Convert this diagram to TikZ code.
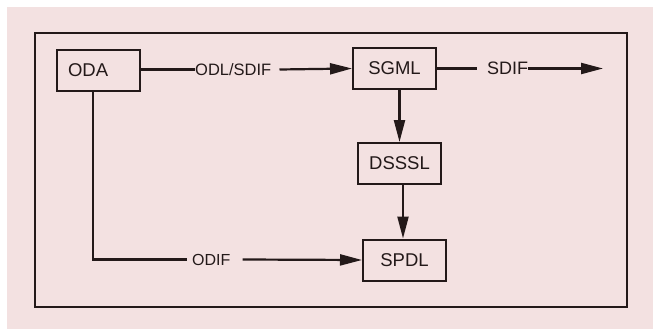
\documentclass[tikz,border=0pt]{standalone}
\usepackage{fontspec}
\setmainfont{Liberation Sans}
\usetikzlibrary{arrows.meta}
\definecolor{paper}{RGB}{243,225,225}
\definecolor{ink}{RGB}{35,25,25}
\begin{document}
\begin{tikzpicture}[x=1pt,y=-1pt,
  box/.style={draw=ink, line width=2pt, minimum width=83pt, minimum height=41pt, inner sep=0pt, font=\fontsize{18.5}{20}\selectfont, text=ink},
  lbl/.style={inner sep=0pt, text=ink, font=\fontsize{16.5}{18}\selectfont},
  conn/.style={draw=ink, line width=2.2pt},
  arr/.style={conn, -{Triangle[length=22pt,width=11pt]}},
  frame/.style={draw=ink, line width=1.8pt}]
\useasboundingbox (0,0) rectangle (653,329);
\fill[white] (0,0) rectangle (653,329);
\fill[paper] (7,7) rectangle (653,329);
\draw[frame] (35,33) rectangle (627,307);
\node[box, text width=61pt, inner xsep=11pt, align=left] (oda) at (98.5,70.5) {ODA};
\node[box] (sgml) at (394.5,68.5) {SGML};
\node[box] (dsssl) at (399.5,163.5) {DSSSL};
\node[box] (spdl) at (404.5,260) {SPDL};
\coordinate (out) at (603,68.5);
\coordinate (odabot) at (93,90.5);
% labels
\node[lbl, anchor=west] (l1) at (195,69.5) {ODL/SDIF};
\node[lbl, anchor=west, font=\fontsize{18}{20}\selectfont] (l2) at (487,68.5) {SDIF};
\node[lbl, anchor=west, font=\fontsize{16}{18}\selectfont] (l3) at (192,259.5) {ODIF};
% connectors
\draw[conn] (oda.east |- l1.west) -- (l1.west);
\draw[arr] ([xshift=8pt]l1.east) -- (sgml.west);
\draw[conn] (sgml.east) -- ([xshift=-10pt]l2.west |- sgml.east);
\draw[arr] (l2.east |- out) -- (out);
\draw[arr] (dsssl.north |- sgml.south) -- (dsssl.north);
\draw[arr] ([xshift=3.5pt]dsssl.south) -- ([xshift=3.5pt]dsssl.south |- spdl.north);
\draw[conn] (odabot) |- ([xshift=-5pt]l3.west);
\draw[arr] ([xshift=12pt]l3.east) -- (spdl.west);
\end{tikzpicture}
\end{document}
